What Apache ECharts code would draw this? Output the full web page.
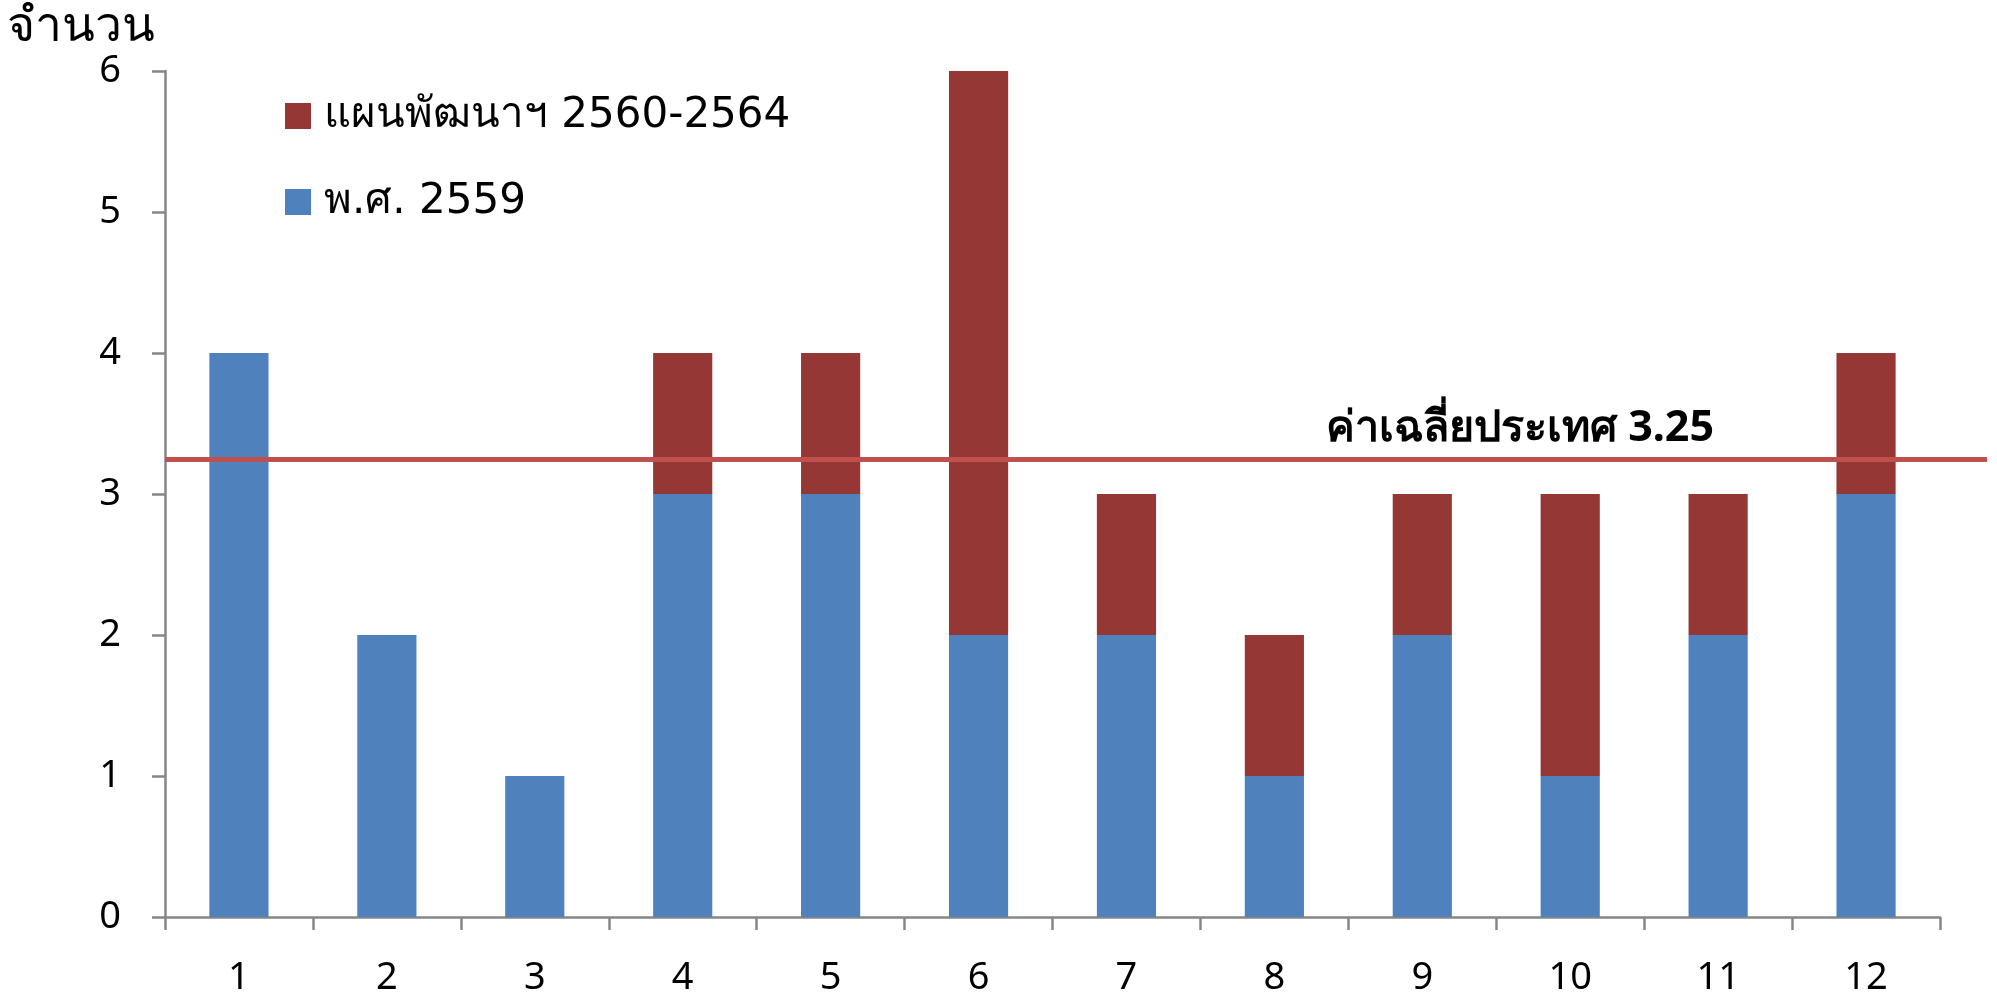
<!DOCTYPE html>
<html>
<head>
<meta charset="utf-8">
<script src="https://cdn.jsdelivr.net/npm/echarts@6/dist/echarts.min.js"></script>
<style>
  html, body { margin: 0; padding: 0; background: #fff; }
  #chart { width: 1997px; height: 997px; }
</style>
</head>
<body>
<div id="chart"></div>
<script>
// Category labels along the x axis
const categories = ['1', '2', '3', '4', '5', '6', '7', '8', '9', '10', '11', '12'];
// Counts in 2016 (bottom segment)
const year2559 = [4, 2, 1, 3, 3, 2, 2, 1, 2, 1, 2, 3];
// Counts planned for 2017-2021 (stacked on top)
const plan2560_2564 = [0, 0, 0, 1, 1, 4, 1, 1, 1, 2, 1, 1];
// National average reference value
const nationalAverage = 3.25;
const yTicks = { min: 0, max: 6, interval: 1 };

const seriesNames = ['แผนพัฒนาฯ 2560-2564', 'พ.ศ. 2559'];
const FONT = '"Noto Sans", "Open Sans", sans-serif';
const WIDE_FONT = '"DejaVu Sans", "Noto Sans", sans-serif';
const AXIS_GREY = '#868686';

const chart = echarts.init(document.getElementById('chart'), null, { renderer: 'canvas' });

chart.setOption({
  animation: false,
  backgroundColor: '#ffffff',
  grid: [
    { left: 165, right: 57, top: 71, bottom: 80, containLabel: false },
    { left: 165, right: 10, top: 71, bottom: 80, containLabel: false }
  ],
  legend: {
    orient: 'vertical',
    left: 280,
    top: 89,
    itemWidth: 26,
    itemHeight: 26,
    itemGap: 42,
    icon: 'rect',
    data: seriesNames,
    textStyle: { fontFamily: WIDE_FONT, fontSize: 42, lineHeight: 44, color: '#000', padding: [0, 0, 0, 8] }
  },
  xAxis: [
    {
      type: 'category',
      gridIndex: 0,
      data: categories,
      boundaryGap: true,
      axisLine: { lineStyle: { color: AXIS_GREY, width: 2.5 } },
      axisTick: { show: true, length: 13, alignWithLabel: false, lineStyle: { color: AXIS_GREY, width: 2.5 } },
      axisLabel: { margin: 42, fontFamily: FONT, fontSize: 38, color: '#000' },
      splitLine: { show: false }
    },
    { type: 'value', gridIndex: 1, min: 0, max: 1, show: false }
  ],
  yAxis: [
    {
      type: 'value',
      gridIndex: 0,
      min: yTicks.min,
      max: yTicks.max,
      interval: yTicks.interval,
      name: 'จำนวน',
      nameLocation: 'end',
      nameGap: 14,
      nameTextStyle: { fontFamily: WIDE_FONT, fontSize: 48, color: '#000', align: 'right', padding: [0, 10, 0, 0] },
      axisLine: { show: true, lineStyle: { color: AXIS_GREY, width: 2.5 } },
      axisTick: { show: true, length: 13, lineStyle: { color: AXIS_GREY, width: 2.5 } },
      axisLabel: { margin: 44, fontFamily: FONT, fontSize: 38, color: '#000' },
      splitLine: { show: false }
    },
    { type: 'value', gridIndex: 1, min: yTicks.min, max: yTicks.max, show: false }
  ],
  series: [
    {
      name: seriesNames[1],
      type: 'bar',
      stack: 'total',
      xAxisIndex: 0,
      yAxisIndex: 0,
      barCategoryGap: '60%',
      itemStyle: { color: '#4F81BD' },
      data: year2559
    },
    {
      name: seriesNames[0],
      type: 'bar',
      stack: 'total',
      xAxisIndex: 0,
      yAxisIndex: 0,
      barCategoryGap: '60%',
      itemStyle: { color: '#953735' },
      data: plan2560_2564
    },
    {
      name: 'ค่าเฉลี่ยประเทศ',
      type: 'line',
      xAxisIndex: 1,
      yAxisIndex: 1,
      data: [],
      z: 5,
      markLine: {
        silent: true,
        symbol: ['none', 'none'],
        lineStyle: { color: '#C0504D', width: 5, type: 'solid' },
        label: {
          show: true,
          position: 'insideEndTop',
          formatter: 'ค่าเฉลี่ยประเทศ ' + nationalAverage,
          fontFamily: FONT,
          fontWeight: 'bold',
          fontSize: 43,
          color: '#000',
          padding: [0, 268, 4, 0]
        },
        data: [{ yAxis: nationalAverage }]
      }
    }
  ]
});
</script>
</body>
</html>
